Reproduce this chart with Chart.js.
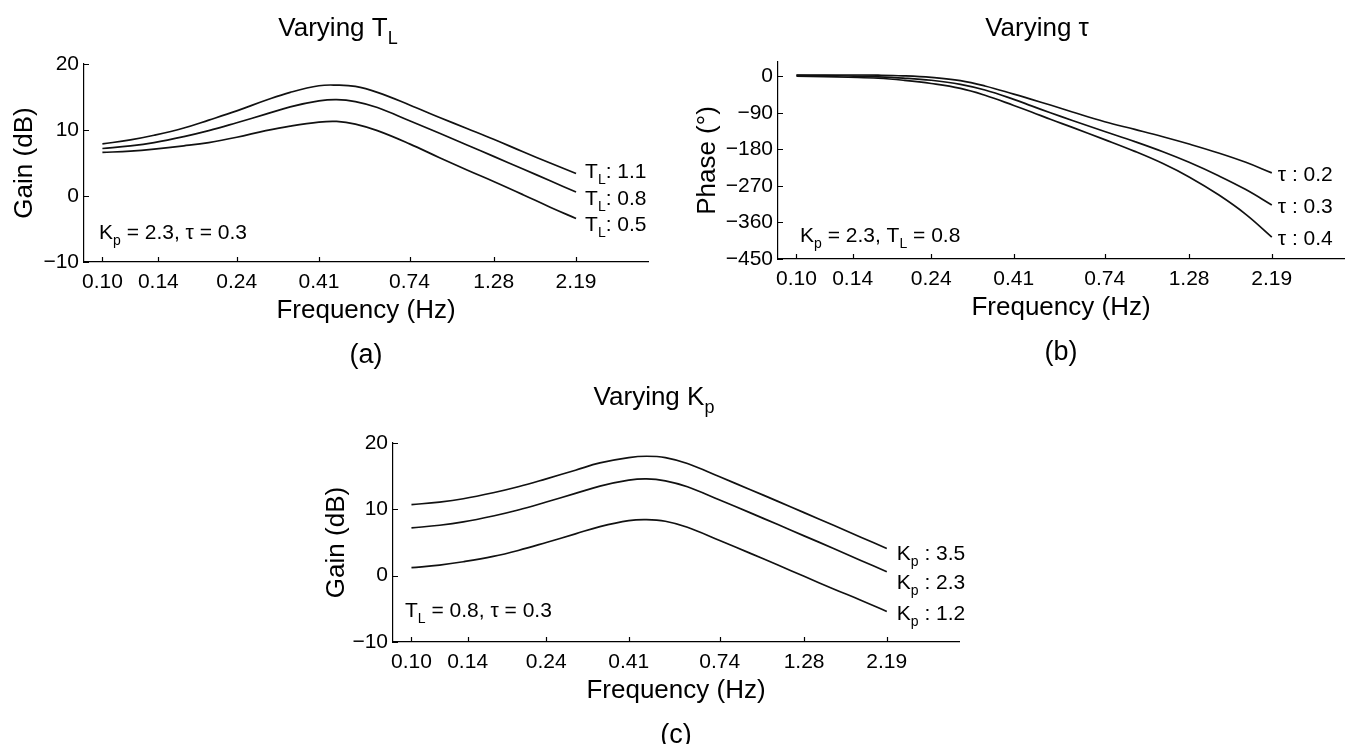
<!DOCTYPE html>
<html>
<head>
<meta charset="utf-8">
<script src="https://cdn.jsdelivr.net/npm/chart.js@4.4.1/dist/chart.umd.min.js"></script>
<style>
  html, body { margin: 0; padding: 0; background: #fff; }
  #page { position: relative; width: 1347px; height: 744px; overflow: hidden; }
  #page canvas { position: absolute; left: 0; top: 0; }
</style>
</head>
<body>
<div id="page">
  <canvas id="chart-a" width="1347" height="744"></canvas>
  <canvas id="chart-b" width="1347" height="744"></canvas>
  <canvas id="chart-c" width="1347" height="744"></canvas>
</div>
<script>
const freqHz = [0.10, 0.12, 0.14, 0.17, 0.20, 0.24, 0.29, 0.34, 0.41, 0.46, 0.52, 0.60, 0.74, 0.90, 1.08, 1.28, 1.55, 1.85, 2.19];

// x ticks (the 0.14 tick sits a little right of a true 0.14)
const freqTicks = [0.10, 0.144, 0.24, 0.41, 0.74, 1.28, 2.19];
const freqTickLabels = ['0.10', '0.14', '0.24', '0.41', '0.74', '1.28', '2.19'];
const gainTicks = [-10, 0, 10, 20];
const phaseTicks = [-450, -360, -270, -180, -90, 0];

// (a) gain (dB), varying T_L
const gainTL11 = [7.9, 8.5, 9.2, 10.3, 11.5, 12.9, 14.5, 15.7, 16.7, 16.8, 16.6, 15.7, 13.8, 11.9, 10.2, 8.6, 6.7, 5.0, 3.4];
const gainTL08 = [7.2, 7.6, 8.1, 9.0, 9.9, 11.1, 12.4, 13.5, 14.4, 14.6, 14.3, 13.4, 11.4, 9.5, 7.7, 6.0, 4.1, 2.3, 0.6];
const gainTL05 = [6.6, 6.8, 7.1, 7.6, 8.1, 8.9, 9.9, 10.6, 11.2, 11.3, 10.9, 9.9, 7.9, 5.8, 3.9, 2.2, 0.2, -1.7, -3.4];

// (b) phase (deg), varying tau
const phaseTau02 = [3, 3, 3, 2.5, 1, -3, -11, -24, -44, -57, -71, -88, -112, -131, -149, -167, -189, -212, -238];
const phaseTau03 = [2, 1.5, 0.5, -1.5, -4.5, -10, -20, -34, -57, -73, -90, -109, -136, -161, -186, -212, -245, -279, -317];
const phaseTau04 = [0, -1, -2.5, -5, -10, -18, -30, -47, -72, -88, -106, -126, -156, -185, -215, -248, -292, -340, -396];

// (c) gain (dB), varying Kp
const gainKp35 = [10.7, 11.1, 11.6, 12.5, 13.4, 14.6, 15.9, 17.0, 17.8, 18.0, 17.8, 16.9, 14.9, 13.0, 11.2, 9.5, 7.6, 5.8, 4.1];
const gainKp23 = [7.2, 7.6, 8.1, 9.0, 9.9, 11.1, 12.4, 13.5, 14.4, 14.6, 14.3, 13.4, 11.4, 9.5, 7.7, 6.0, 4.1, 2.3, 0.6];
const gainKp12 = [1.2, 1.6, 2.1, 2.9, 3.8, 5.0, 6.3, 7.4, 8.3, 8.45, 8.2, 7.3, 5.3, 3.4, 1.6, -0.1, -2.0, -3.7, -5.4];

const FONT = "'Liberation Sans', Arial, Helvetica, sans-serif";
const X_MIN = 0.0887, X_MAX = 3.5;
const Y_AXIS_W = 70, X_AXIS_H = 40;

// draw text made of [text, isSubscript] parts, y is the baseline
function drawRich(ctx, parts, x, y, size, align) {
    ctx.save();
    ctx.fillStyle = '#000';
    ctx.textBaseline = 'alphabetic';
    ctx.textAlign = 'left';
    const subSize = Math.round(size * 0.68);
    let total = 0;
    parts.forEach(p => {
        ctx.font = (p[1] ? subSize : size) + 'px ' + FONT;
        total += ctx.measureText(p[0]).width;
    });
    let cx = align === 'center' ? x - total / 2 : (align === 'right' ? x - total : x);
    parts.forEach(p => {
        ctx.font = (p[1] ? subSize : size) + 'px ' + FONT;
        ctx.fillText(p[0], cx, p[1] ? y + size * 0.3 : y);
        cx += ctx.measureText(p[0]).width;
    });
    ctx.restore();
}

function drawPanelText(chart, p) {
    const {ctx, chartArea: a, scales} = chart;
    const mid = (a.left + a.right) / 2;

    // inward tick marks
    ctx.save();
    ctx.strokeStyle = '#000';
    ctx.lineWidth = 1.2;
    ctx.beginPath();
    scales.x.ticks.forEach(t => {
        const px = Math.round(scales.x.getPixelForValue(t.value)) + 0.5;
        ctx.moveTo(px, a.bottom);
        ctx.lineTo(px, a.bottom - 5);
    });
    scales.y.ticks.forEach(t => {
        const py = Math.round(scales.y.getPixelForValue(t.value)) + 0.5;
        ctx.moveTo(a.left, py);
        ctx.lineTo(a.left + 5, py);
    });
    ctx.stroke();
    ctx.restore();

    drawRich(ctx, p.title, mid + p.titleDx, a.top - p.titleRise, 26, 'center');
    drawRich(ctx, [['Frequency (Hz)', 0]], mid, a.bottom + 56, 26, 'center');
    drawRich(ctx, [[p.letter, 0]], mid, a.bottom + 101, 27, 'center');

    ctx.save();
    ctx.translate(a.left - p.yTitleDx, (a.top + a.bottom) / 2);
    ctx.rotate(-Math.PI / 2);
    drawRich(ctx, p.yTitle, 0, 9, 26, 'center');
    ctx.restore();

    drawRich(ctx, p.note, a.left + p.noteDx, a.bottom - p.noteRise, 21, 'left');

    p.series.forEach((s, i) => {
        const last = s.length - 1;
        const ex = scales.x.getPixelForValue(freqHz[last]);
        const ey = scales.y.getPixelForValue(s[last]);
        drawRich(ctx, p.endLabels[i], ex + p.labelGap, ey + p.labelShift[i] + 7.5, 21, 'left');
    });
}

function makeChart(canvasId, p) {
    const datasets = p.series.map(s => ({
        data: freqHz.map((f, i) => ({x: f, y: s[i]})),
        borderColor: '#111',
        borderWidth: 1.7,
        pointRadius: 0,
        fill: false,
        tension: 0.4
    }));
    const tickFont = {family: FONT, size: 21};
    return new Chart(document.getElementById(canvasId), {
        type: 'line',
        data: {datasets},
        options: {
            responsive: false,
            animation: false,
            events: [],
            layout: {
                padding: {
                    left: p.area.left - Y_AXIS_W,
                    top: p.area.top,
                    right: 1347 - p.area.right,
                    bottom: 744 - p.area.bottom - X_AXIS_H
                }
            },
            plugins: {legend: {display: false}, tooltip: {enabled: false}},
            scales: {
                x: {
                    type: 'logarithmic',
                    min: X_MIN,
                    max: X_MAX,
                    grid: {display: false, drawTicks: false},
                    border: {display: true, color: '#000', width: 1.2},
                    afterBuildTicks: s => { s.ticks = freqTicks.map(v => ({value: v})); },
                    afterFit: s => { s.height = X_AXIS_H; },
                    ticks: {
                        autoSkip: false, maxRotation: 0, minRotation: 0, padding: 8,
                        color: '#000', font: tickFont,
                        callback: (v, i) => freqTickLabels[i]
                    }
                },
                y: {
                    type: 'linear',
                    min: p.yMin,
                    max: p.yMax,
                    grid: {display: false, drawTicks: false},
                    border: {display: true, color: '#000', width: 1.2},
                    afterBuildTicks: s => { s.ticks = p.yTicks.map(v => ({value: v})); },
                    afterFit: s => { s.width = Y_AXIS_W; },
                    ticks: {
                        padding: 5, color: '#000', font: tickFont,
                        callback: v => String(v).replace('-', '\u2212')
                    }
                }
            }
        },
        plugins: [{id: 'panelText', afterDraw: chart => drawPanelText(chart, p)}]
    });
}

makeChart('chart-a', {
    area: {left: 84, right: 648, top: 64, bottom: 262},
    yMin: -10, yMax: 20, yTicks: gainTicks,
    series: [gainTL11, gainTL08, gainTL05],
    endLabels: [
        [['T', 0], ['L', 1], [': 1.1', 0]],
        [['T', 0], ['L', 1], [': 0.8', 0]],
        [['T', 0], ['L', 1], [': 0.5', 0]]
    ],
    labelGap: 9, labelShift: [-3, 5.5, 5],
    title: [['Varying T', 0], ['L', 1]], titleDx: -28, titleRise: 28,
    yTitle: [['Gain (dB)', 0]], yTitleDx: 61,
    note: [['K', 0], ['p', 1], [' = 2.3, \u03c4 = 0.3', 0]], noteDx: 15, noteRise: 23,
    letter: '(a)'
});

makeChart('chart-b', {
    area: {left: 778, right: 1344, top: 62, bottom: 259},
    yMin: -450, yMax: 35, yTicks: phaseTicks,
    series: [phaseTau02, phaseTau03, phaseTau04],
    endLabels: [
        [['\u03c4 : 0.2', 0]],
        [['\u03c4 : 0.3', 0]],
        [['\u03c4 : 0.4', 0]]
    ],
    labelGap: 6, labelShift: [1, 1, 0],
    title: [['Varying \u03c4', 0]], titleDx: -24, titleRise: 26,
    yTitle: [['Phase (\u00b0)', 0]], yTitleDx: 72,
    note: [['K', 0], ['p', 1], [' = 2.3, T', 0], ['L', 1], [' = 0.8', 0]], noteDx: 22, noteRise: 17,
    letter: '(b)'
});

makeChart('chart-c', {
    area: {left: 393, right: 959, top: 443, bottom: 642},
    yMin: -10, yMax: 20, yTicks: gainTicks,
    series: [gainKp35, gainKp23, gainKp12],
    endLabels: [
        [['K', 0], ['p', 1], [' : 3.5', 0]],
        [['K', 0], ['p', 1], [' : 2.3', 0]],
        [['K', 0], ['p', 1], [' : 1.2', 0]]
    ],
    labelGap: 10, labelShift: [4, 10, 1],
    title: [['Varying K', 0], ['p', 1]], titleDx: -22, titleRise: 38,
    yTitle: [['Gain (dB)', 0]], yTitleDx: 58,
    note: [['T', 0], ['L', 1], [' = 0.8, \u03c4 = 0.3', 0]], noteDx: 12, noteRise: 25,
    letter: '(c)'
});
</script>
</body>
</html>
